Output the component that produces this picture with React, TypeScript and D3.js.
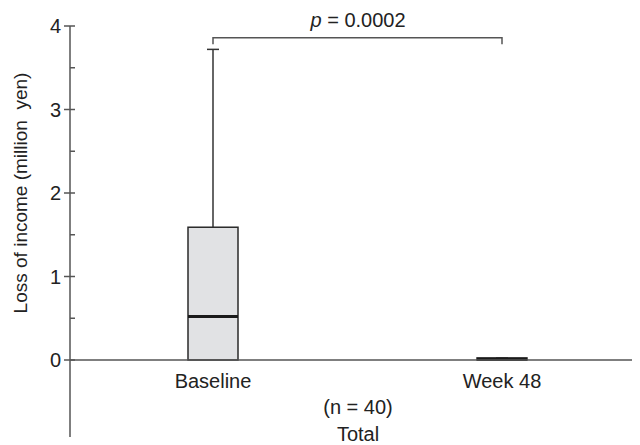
import React from "react";
import * as d3 from "d3";

const categories = ["Baseline", "Week 48"];
const whiskerLow = [0, 0];
const q1 = [0, 0];
const median = [0.52, 0.01];
const q3 = [1.59, 0.025];
const whiskerHigh = [3.72, 0.025];
const yTicks = [0, 1, 2, 3, 4];
const yMinorTicks = [0.5, 1.5, 2.5, 3.5];
const pLabel = "0.0002";
const bracketY = 3.86;
const bracketDrop = 0.08;
const nLabel = "(n = 40)";
const groupLabel = "Total";
const yTitle = "Loss of income (million\u00a0\u00a0yen)";

const W = 640;
const H = 445;
const FONT = "'Liberation Sans', Arial, sans-serif";
const FS = 20;

export default function App() {
  const axisX = 70;
  const y = d3.scaleLinear().domain([0, 4]).range([360, 26]);
  const yBottom = 437;
  const x = d3.scalePoint<string>().domain(categories).range([213, 502]);
  const boxW = 50;
  const axisColor = "#555";
  const textColor = "#222";

  return (
    <div style={{ margin: "-8px 0 0 -8px", width: W, height: H, overflow: "hidden" }}>
      <svg width={W} height={H} style={{ display: "block", fontFamily: FONT }}>
        <rect width={W} height={H} fill="#fff" />
        {/* y axis */}
        <line x1={axisX} x2={axisX} y1={y(4)} y2={yBottom} stroke={axisColor} strokeWidth={1.5} />
        {yTicks.map((t) => (
          <g key={t}>
            <line x1={axisX - 6} x2={axisX + 5} y1={y(t)} y2={y(t)} stroke={axisColor} strokeWidth={1.5} />
            <text x={axisX - 9} y={y(t)} dy="0.35em" textAnchor="end" fontSize={FS} fill={textColor}>
              {t}
            </text>
          </g>
        ))}
        {yMinorTicks.map((t) => (
          <line key={t} x1={axisX} x2={axisX + 5} y1={y(t)} y2={y(t)} stroke={axisColor} strokeWidth={1.5} />
        ))}
        <text
          transform={`translate(${20},${(y(0) + y(4)) / 2}) rotate(-90)`}
          textAnchor="middle"
          dy="0.35em"
          fontSize={19}
          fill={textColor}
        >
          {yTitle}
        </text>

        {/* boxes */}
        {categories.map((c, i) => {
          const cx = x(c)!;
          return (
            <g key={c}>
              <line x1={cx} x2={cx} y1={y(q3[i])} y2={y(whiskerHigh[i])} stroke="#333" strokeWidth={1.5} />
              <line x1={cx - 6} x2={cx + 6} y1={y(whiskerHigh[i])} y2={y(whiskerHigh[i])} stroke="#333" strokeWidth={1.5} />
              <line x1={cx} x2={cx} y1={y(q1[i])} y2={y(whiskerLow[i])} stroke="#333" strokeWidth={1.5} />
              <rect
                x={cx - boxW / 2}
                y={y(q3[i])}
                width={boxW}
                height={Math.max(0, y(q1[i]) - y(q3[i]))}
                fill="#e1e2e4"
                stroke="#2a2a2a"
                strokeWidth={1.5}
              />
              <line
                x1={cx - boxW / 2}
                x2={cx + boxW / 2}
                y1={y(median[i])}
                y2={y(median[i])}
                stroke="#1a1a1a"
                strokeWidth={3}
              />
            </g>
          );
        })}

        {/* x axis */}
        <line x1={axisX} x2={W} y1={y(0)} y2={y(0)} stroke={axisColor} strokeWidth={1.5} />
        {categories.map((c) => (
          <text key={c} x={x(c)!} y={388} textAnchor="middle" fontSize={FS} fill={textColor}>
            {c}
          </text>
        ))}
        <text x={358} y={414} textAnchor="middle" fontSize={FS} fill={textColor}>
          {nLabel}
        </text>
        <text x={358} y={441} textAnchor="middle" fontSize={FS} fill={textColor}>
          {groupLabel}
        </text>

        {/* significance bracket */}
        <path
          d={`M${x(categories[0])},${y(bracketY - bracketDrop)}V${y(bracketY)}H${x(categories[1])}V${y(bracketY - bracketDrop)}`}
          fill="none"
          stroke={axisColor}
          strokeWidth={1.5}
        />
        <text x={358} y={27} textAnchor="middle" fontSize={FS} fill={textColor}>
          <tspan fontStyle="italic">p</tspan> = {pLabel}
        </text>
      </svg>
    </div>
  );
}
